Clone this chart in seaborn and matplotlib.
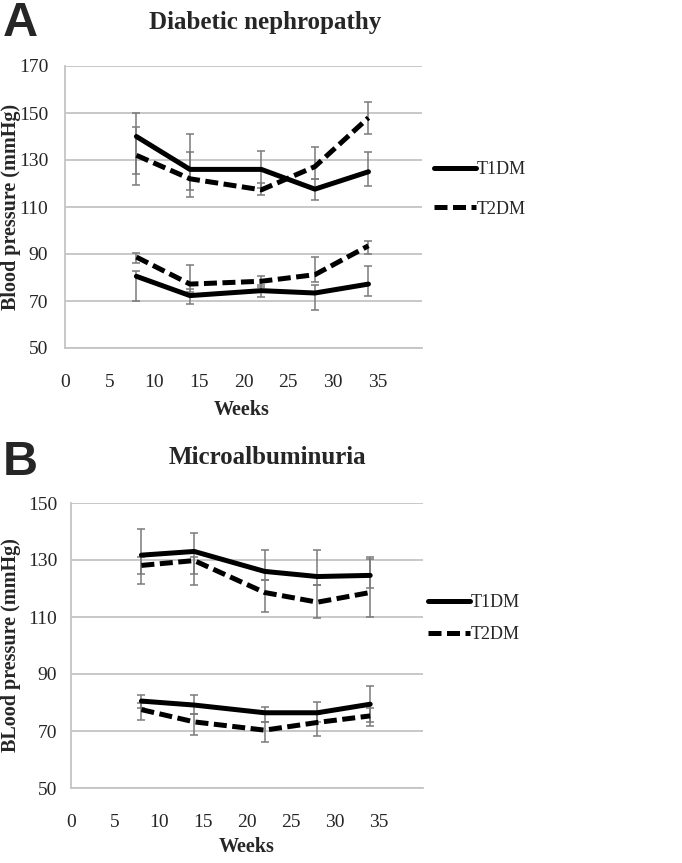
import numpy as np
import pandas as pd
import matplotlib
matplotlib.use("Agg")
import matplotlib.pyplot as plt
import seaborn as sns
from matplotlib.lines import Line2D

sns.set_style("white")
plt.rcParams['font.family'] = ['Liberation Serif', 'DejaVu Serif']

weeks = [8, 14, 22, 28, 34]
groups = ["T1DM", "T2DM"]

# Panel A: Diabetic nephropathy
a_t1_sys = [140, 126, 126, 117.6, 125]
a_t2_sys = [132, 122, 117.3, 127.2, 148]
a_t1_dia = [80.5, 72.3, 74.4, 73.4, 77.2]
a_t2_dia = [88.7, 77.2, 78.4, 81.2, 93.5]
# error bar low / high ends
a_t1_sys_lo = [124, 117.3, 118, 112.8, 119]
a_t1_sys_hi = [150, 141, 134, 122, 133.2]
a_t2_sys_lo = [119.5, 114.2, 115, 122, 141]
a_t2_sys_hi = [144, 133.6, 120, 135.7, 154.8]
a_t1_dia_lo = [69.9, 68.9, 71.6, 66, 72.3]
a_t1_dia_hi = [82.9, 75, 77, 76.7, 85]
a_t2_dia_lo = [86, 74, 76, 78, 90]
a_t2_dia_hi = [90.4, 85.2, 80.8, 88.6, 95.4]

# Panel B: Microalbuminuria
b_t1_sys = [131.7, 133, 126, 124.2, 124.6]
b_t2_sys = [128.1, 129.8, 118.6, 115.2, 118.6]
b_t1_dia = [80.5, 79.1, 76.4, 76.4, 79.4]
b_t2_dia = [77.5, 73.2, 70.3, 73, 75.3]
b_t1_sys_lo = [125, 125, 123, 121.3, 120.1]
b_t1_sys_hi = [141, 139.4, 133.6, 133.6, 130.9]
b_t2_sys_lo = [121.6, 121.3, 111.9, 109.6, 110.1]
b_t2_sys_hi = [131, 131, 123, 121.3, 130.5]
b_t1_dia_lo = [78, 76, 73.2, 73, 73.2]
b_t1_dia_hi = [82.8, 82.5, 78.3, 80.2, 85.9]
b_t2_dia_lo = [73.8, 68.5, 66, 68.1, 71.7]
b_t2_dia_hi = [80, 76, 73.2, 76, 78]

a_yticks = [50, 70, 90, 110, 130, 150, 170]
b_yticks = [50, 70, 90, 110, 130, 150]
xticks = [0, 5, 10, 15, 20, 25, 30, 35, 40]
xticklabels = ["0", "5", "10", "15", "20", "25", "30", "35", ""]


def make_df(t1s, t2s, t1d, t2d):
    rows = []
    for g, s, d in [("T1DM", t1s, t1d), ("T2DM", t2s, t2d)]:
        for w, v in zip(weeks, s):
            rows.append(dict(week=w, bp=v, group=g, measure="sys"))
        for w, v in zip(weeks, d):
            rows.append(dict(week=w, bp=v, group=g, measure="dia"))
    return pd.DataFrame(rows)


fig = plt.figure(figsize=(6.82, 8.63), dpi=100)
W, H = 682, 863


def ax_at(l, t, r, b):
    return fig.add_axes([l / W, 1 - b / H, (r - l) / W, (b - t) / H])


DASH = (2.6, 1.1)
dashes = {"T1DM": "", "T2DM": DASH}
grid_c = "#c4c4c4"
err_c = "#7a7a7a"
LW = 3.6


def draw(ax, df, errs, yticks, ylim, ylabel, title, tpos, letter, lpos, xlpos,
         leg_x, leg_top, leg_ls, ylab_x, ypad):
    for (vals, lo, hi) in errs:
        v = np.array(vals); lo = np.array(lo); hi = np.array(hi)
        ax.errorbar(weeks, v, yerr=[v - lo, hi - v], fmt="none", ecolor=err_c,
                    elinewidth=1.1, capsize=3.2, capthick=1.1, zorder=2)
    sns.lineplot(data=df, x="week", y="bp", style="group", units="measure",
                 estimator=None, dashes=dashes, color="black", linewidth=LW,
                 legend=False, ax=ax, zorder=3)
    ax.set_xlim(0, 40)
    ax.set_ylim(*ylim)
    ax.set_yticks(yticks)
    ax.set_yticklabels([str(t) for t in yticks])
    ax.set_xticks(xticks)
    ax.set_xticklabels(xticklabels)
    ax.yaxis.grid(True, color=grid_c, linewidth=1.3)
    ax.set_axisbelow(True)
    for s in ["top", "right"]:
        ax.spines[s].set_visible(False)
    for s in ["left", "bottom"]:
        ax.spines[s].set_color(grid_c)
        ax.spines[s].set_linewidth(1.3)
    ax.tick_params(axis="both", which="both", length=5, width=1.2, color=grid_c,
                   labelsize=14, direction="out")
    ax.tick_params(axis="x", pad=14)
    ax.tick_params(axis="y", pad=ypad)
    ax.set_xlabel("")
    ax.set_ylabel("")
    pos = ax.get_position()
    fig.text(ylab_x / W, (pos.y0 + pos.y1) / 2, ylabel, rotation=90, ha="center",
             va="center", fontsize=14.5, fontweight="bold", family="Liberation Serif")
    fig.text(tpos[0] / W, 1 - tpos[1] / H, title, ha="center", va="center",
             fontsize=18, fontweight="bold", family="Liberation Serif")
    fig.text(lpos[0] / W, 1 - lpos[1] / H, letter, ha="left", va="center",
             fontsize=35, fontweight="bold", family="Liberation Sans")
    fig.text(xlpos[0] / W, 1 - xlpos[1] / H, "Weeks", ha="center", va="center",
             fontsize=14.5, fontweight="bold", family="Liberation Serif")
    handles = [Line2D([0], [0], color="black", lw=LW, linestyle="-"),
               Line2D([0], [0], color="black", lw=LW, linestyle=(0, DASH))]
    fig.legend(handles, groups, loc="upper left",
               bbox_to_anchor=(leg_x / W, 1 - leg_top / H),
               frameon=False, handlelength=2.3, handletextpad=0.05,
               labelspacing=leg_ls, borderaxespad=0, borderpad=0,
               prop={"family": "Liberation Serif", "size": 13})
    return ax


axA = ax_at(65, 66, 422, 348)
dfA = make_df(a_t1_sys, a_t2_sys, a_t1_dia, a_t2_dia)
errsA = [(a_t1_sys, a_t1_sys_lo, a_t1_sys_hi), (a_t2_sys, a_t2_sys_lo, a_t2_sys_hi),
         (a_t1_dia, a_t1_dia_lo, a_t1_dia_hi), (a_t2_dia, a_t2_dia_lo, a_t2_dia_hi)]
draw(axA, dfA, errsA, a_yticks, (50, 170), "Blood pressure (mmHg)",
     "Diabetic nephropathy", (265, 22), "A", (3, 24), (242, 410),
     434, 161, 1.25, 11, 7)

axB = ax_at(71, 503, 423, 788)
dfB = make_df(b_t1_sys, b_t2_sys, b_t1_dia, b_t2_dia)
errsB = [(b_t1_sys, b_t1_sys_lo, b_t1_sys_hi), (b_t2_sys, b_t2_sys_lo, b_t2_sys_hi),
         (b_t1_dia, b_t1_dia_lo, b_t1_dia_hi), (b_t2_dia, b_t2_dia_lo, b_t2_dia_hi)]
draw(axB, dfB, errsB, b_yticks, (50, 150), "BLood pressure (mmHg)",
     "Microalbuminuria", (267, 457), "B", (3, 462), (247, 847),
     428, 594, 0.85, 11, 5)

fig.savefig("out.png", dpi=100)
